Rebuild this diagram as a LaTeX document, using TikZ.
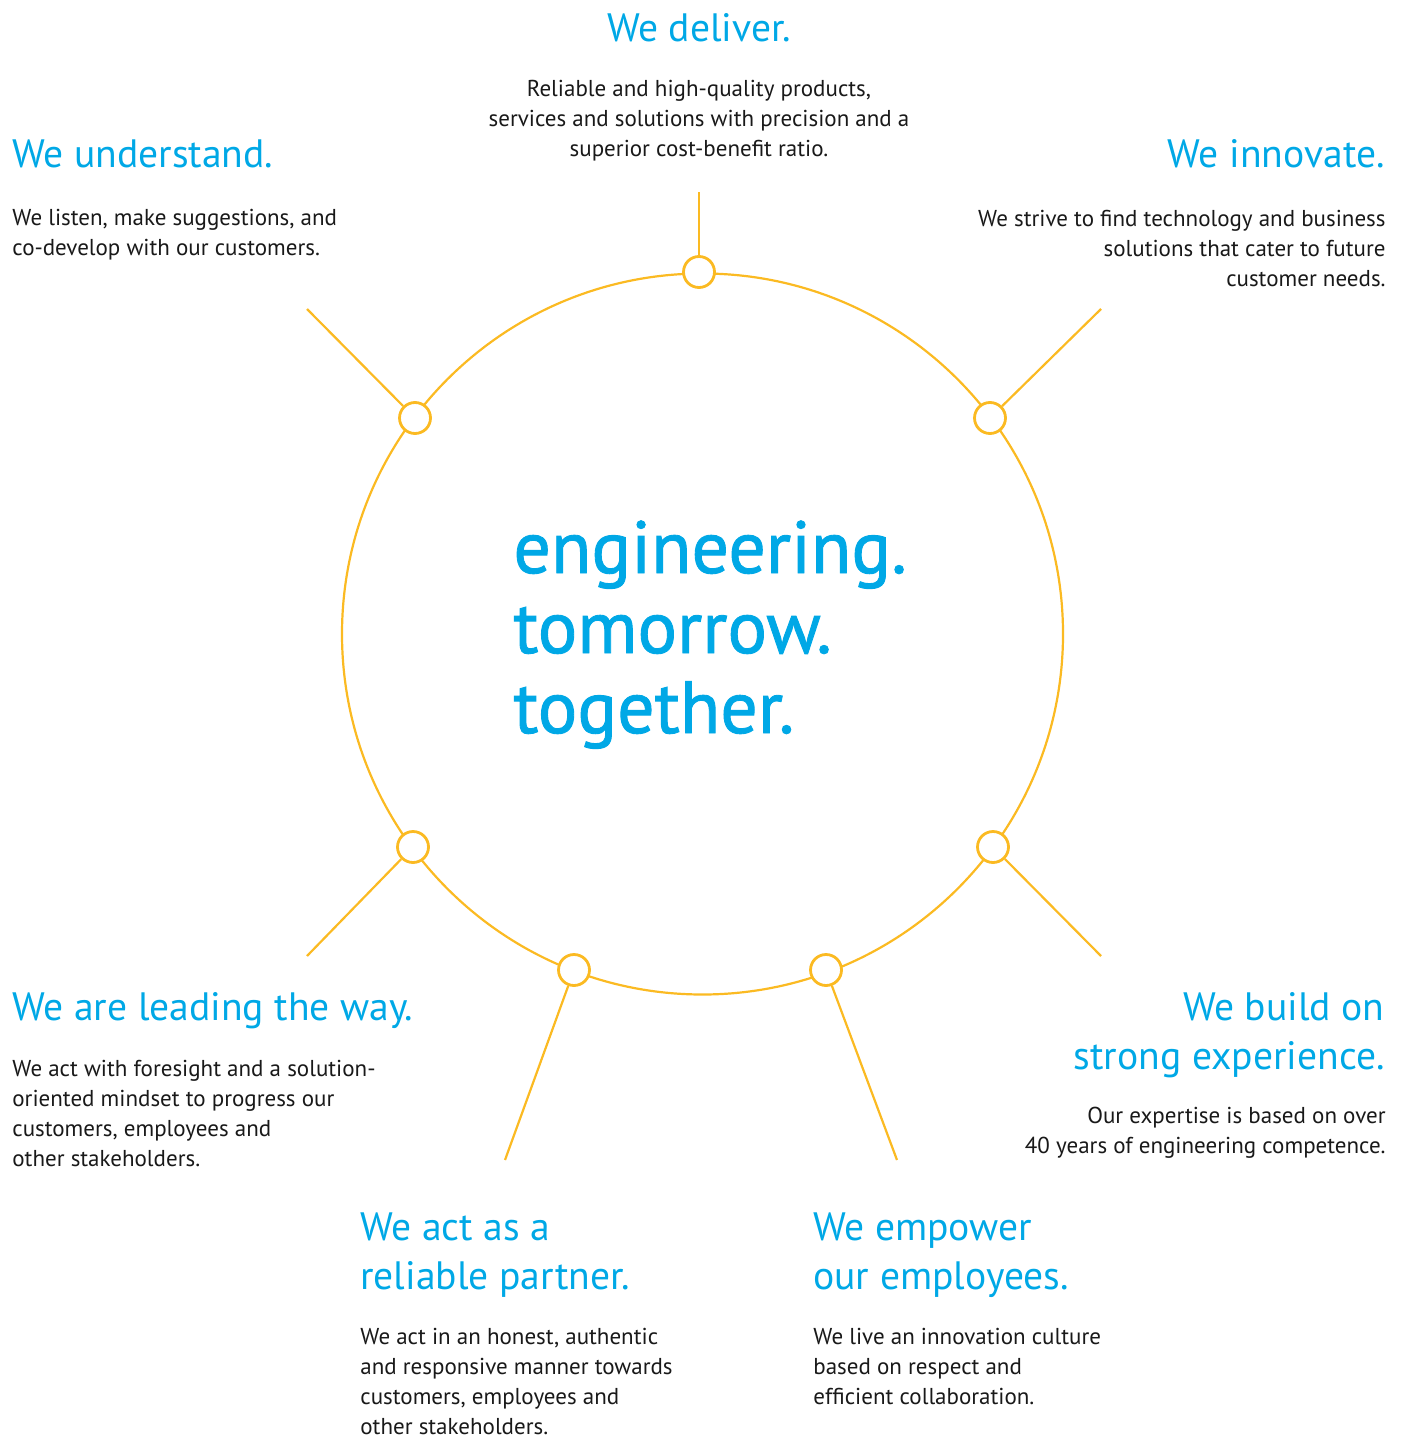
\documentclass[tikz,border=0pt]{standalone}
\usepackage{fontspec}
\setmainfont{PT Sans}
\newfontfamily\mottofont{PT Sans}[FakeBold=1.2]
\definecolor{brandblue}{HTML}{00A8E6}
\definecolor{brandyellow}{HTML}{FBBA22}
\tikzset{
  head/.style={text=brandblue, font=\fontsize{19.8}{24.5}\selectfont, inner sep=0pt},
  body/.style={text=black!90, font=\fontsize{11.5}{15}\selectfont, inner sep=0pt},
}
\begin{document}
\begin{tikzpicture}[x=0.5pt,y=-0.5pt]
        \useasboundingbox (0,0) rectangle (1404,1439);
        \coordinate (c) at (702.5,634);
        \draw[brandyellow,line width=1.1pt] (c) circle (360.5);
        \foreach \n/\x/\y/\ex/\ey in {dlv/699/272/699/192, inn/990/418/1101/309, und/415/418/307/309, bld/993/847/1101/956, lea/413/847/307/956, emp/826/970/897/1160, par/574/970/505/1160}{
            \node[circle,draw=brandyellow,fill=white,line width=1.4pt,minimum size=15.5pt,inner sep=0pt] (\n) at (\x,\y) {};
            \coordinate (\n-end) at (\ex,\ey);
            \draw[brandyellow,line width=1.1pt] (\n) -- (\n-end);
        }
        % base anchors sit on the last line
        \node[text=brandblue,font=\mottofont\fontsize{37}{40}\selectfont,align=left,anchor=base west,inner sep=0pt] (motto) at (513,733) {engineering.\\tomorrow.\\together.};
        % top
        \node[head,anchor=base] (dlv-h) at (699,42) {We deliver.};
        \node[body,align=center,anchor=base] (dlv-t) at (699,157) {Reliable and high-quality products,\\services and solutions with precision and a\\superior cost-benefit ratio.};
        % left and right
        \node[head,anchor=base west] (und-h) at (12,168) {We understand.};
        \node[body,align=left,anchor=base west] (und-t) at (12,256) {We listen, make suggestions, and\\co-develop with our customers.};
        \node[head,anchor=base east] (inn-h) at (1385,168) {We innovate.};
        \node[body,align=right,anchor=base east] (inn-t) at (1386,286) {We strive to find technology and business\\solutions that cater to future\\customer needs.};
        \node[head,anchor=base west] (lea-h) at (12,1020) {We are leading the way.};
        \node[body,align=left,anchor=base west] (lea-t) at (12,1166) {We act with foresight and a solution-\\oriented mindset to progress our\\customers, employees and\\other stakeholders.};
        \node[head,align=right,anchor=base east] (bld-h) at (1385,1069) {We build on\\strong experience.};
        \node[body,align=right,anchor=base east] (bld-t) at (1386,1153) {Our expertise is based on over\\40 years of engineering competence.};
        % bottom
        \node[head,align=left,anchor=base west] (par-h) at (360,1289) {We act as a\\reliable partner.};
        \node[body,align=left,anchor=base west] (par-t) at (360,1434) {We act in an honest, authentic\\and responsive manner towards\\customers, employees and\\other stakeholders.};
        \node[head,align=left,anchor=base west] (emp-h) at (813,1289) {We empower\\our employees.};
        \node[body,align=left,anchor=base west] (emp-t) at (813,1404) {We live an innovation culture\\based on respect and\\efficient collaboration.};
\end{tikzpicture}
\end{document}
